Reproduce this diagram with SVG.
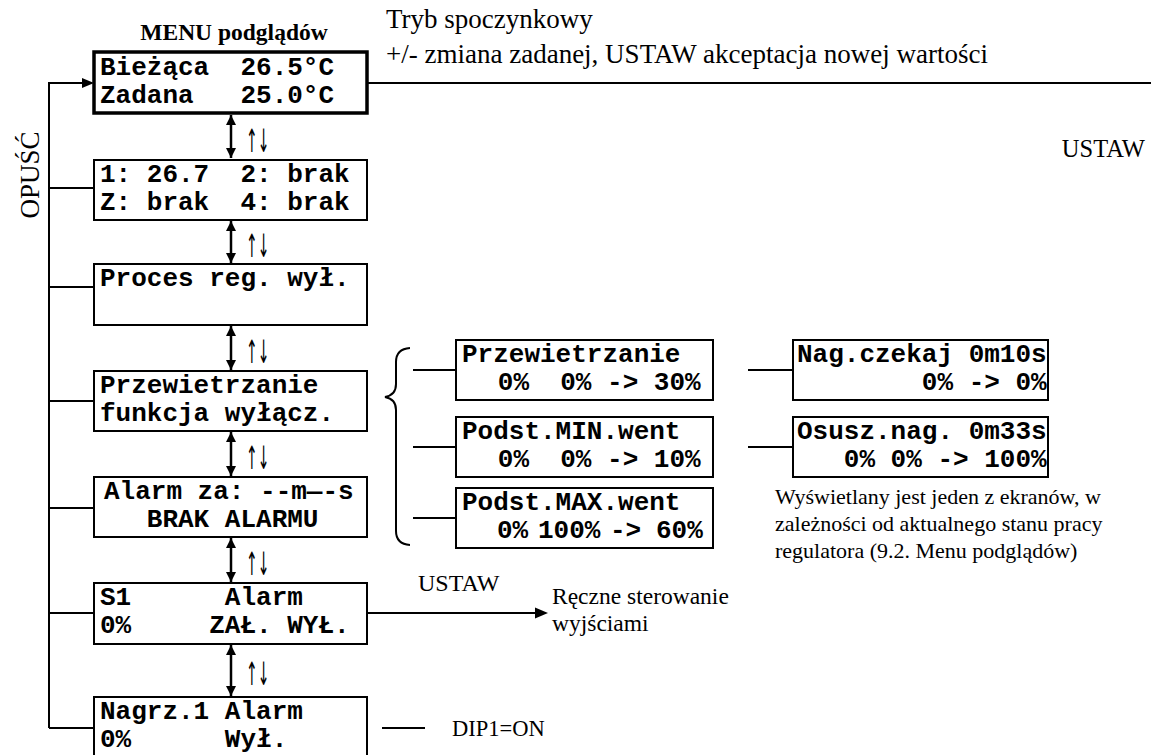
<svg xmlns="http://www.w3.org/2000/svg" width="1151" height="755" viewBox="0 0 1151 755">
<style>
.box{fill:#fff;stroke:#000;stroke-width:2}
.box1{fill:#fff;stroke:#000;stroke-width:3.5}
.mono{font-family:"Liberation Mono","Courier New",monospace;font-weight:bold;font-size:26px;fill:#000;white-space:pre}
.serif{font-family:"Liberation Serif","Times New Roman",serif;fill:#000}
.ud{font-family:"DejaVu Sans",sans-serif;font-size:14px;fill:#000}
.ln{stroke:#000;stroke-width:2;fill:none}
.dbl{stroke:#000;stroke-width:2.5;fill:none;marker-start:url(#ah);marker-end:url(#ah)}
</style>
<defs>
<marker id="ah" viewBox="0 0 10 10" refX="10" refY="5" markerUnits="userSpaceOnUse" markerWidth="12" markerHeight="10" orient="auto-start-reverse">
<path d="M0,0 L10,5 L0,10 z" fill="#000"/>
</marker>
</defs>

<g id="connectors">
<path class="ln" d="M49,728 L49,83 L84,83"/>
<path d="M94,83 L82,78 L82,88 z" fill="#000"/>
<path class="ln" d="M49,188 H94 M49,287 H94 M49,401 H94 M49,508 H94 M49,613 H94 M49,728 H94"/>
<line class="dbl" x1="231" y1="115" x2="231" y2="158"/>
<line class="dbl" x1="231" y1="221" x2="231" y2="263"/>
<line class="dbl" x1="231" y1="326" x2="231" y2="370"/>
<line class="dbl" x1="231" y1="432" x2="231" y2="476"/>
<line class="dbl" x1="231" y1="538" x2="231" y2="582"/>
<line class="dbl" x1="231" y1="645" x2="231" y2="696"/>
<line class="ln" x1="367" y1="83" x2="1151" y2="83" stroke-width="2.5"/>
<path class="ln" d="M410,348 Q396,349 396,362 L396,384 Q396,395 385,397 Q396,399 396,410 L396,531 Q396,544 410,545"/>
<path class="ln" d="M413,370 H456 M413,447 H456 M413,518 H456"/>
<path class="ln" d="M748,370 H793 M748,447 H793"/>
<line class="ln" x1="367" y1="613" x2="536" y2="613"/>
<path d="M548,613 L535,607.5 L535,618.5 z" fill="#000"/>
<line class="ln" x1="382" y1="728" x2="425" y2="728"/>
</g>

<g id="labels">
<text class="serif" x="234" y="40" text-anchor="middle" style="font-weight:bold;font-size:23.5px">MENU podglądów</text>
<text class="serif" x="386" y="28" style="font-size:27px">Tryb spoczynkowy</text>
<text class="serif" x="386" y="63" style="font-size:27px">+/- zmiana zadanej, USTAW akceptacja nowej wartości</text>
<text class="serif" x="1145" y="157" text-anchor="end" style="font-size:24.5px">USTAW</text>
<text class="serif" transform="translate(39,175) rotate(-90)" text-anchor="middle" style="font-size:27px">OPUŚĆ</text>
<text class="ud" transform="translate(246,152) scale(1,2.3)">↑↓</text>
<text class="ud" transform="translate(246,257) scale(1,2.3)">↑↓</text>
<text class="ud" transform="translate(246,363) scale(1,2.3)">↑↓</text>
<text class="ud" transform="translate(246,469) scale(1,2.3)">↑↓</text>
<text class="ud" transform="translate(246,575) scale(1,2.3)">↑↓</text>
<text class="ud" transform="translate(246,685) scale(1,2.3)">↑↓</text>
<text class="serif" x="775" y="504" style="font-size:22px">Wyświetlany jest jeden z ekranów, w</text>
<text class="serif" x="775" y="531" style="font-size:22px">zależności od aktualnego stanu pracy</text>
<text class="serif" x="775" y="558" style="font-size:22px">regulatora (9.2. Menu podglądów)</text>
<text class="serif" x="418" y="591" style="font-size:24px">USTAW</text>
<text class="serif" x="552" y="604" style="font-size:23.5px">Ręczne sterowanie</text>
<text class="serif" x="552" y="631" style="font-size:23.5px">wyjściami</text>
<text class="serif" x="452" y="736" style="font-size:22.5px">DIP1=ON</text>
</g>

<g id="n1"><rect class="box1" x="94" y="52" width="273" height="61"/>
<text class="mono" x="100" y="75" xml:space="preserve">Bieżąca  26.5°C</text>
<text class="mono" x="100" y="103" xml:space="preserve">Zadana   25.0°C</text></g>
<g id="n2"><rect class="box" x="94" y="160" width="273" height="60"/>
<text class="mono" x="100" y="182" xml:space="preserve">1: 26.7  2: brak</text>
<text class="mono" x="100" y="210" xml:space="preserve">Z: brak  4: brak</text></g>
<g id="n3"><rect class="box" x="94" y="264" width="273" height="61"/>
<text class="mono" x="100" y="286" xml:space="preserve">Proces reg. wył.</text></g>
<g id="n4"><rect class="box" x="94" y="371" width="273" height="60"/>
<text class="mono" x="100" y="393" xml:space="preserve">Przewietrzanie</text>
<text class="mono" x="100" y="421" xml:space="preserve">funkcja wyłącz.</text></g>
<g id="n5"><rect class="box" x="94" y="477" width="273" height="60"/>
<text class="mono" x="104" y="499" xml:space="preserve">Alarm za: --m—-s</text>
<text class="mono" x="100" y="527" xml:space="preserve">   BRAK ALARMU</text></g>
<g id="n6"><rect class="box" x="94" y="583" width="273" height="61"/>
<text class="mono" x="100" y="605" xml:space="preserve">S1      Alarm</text>
<text class="mono" x="100" y="633" xml:space="preserve">0%     ZAŁ. WYŁ.</text></g>
<g id="n7"><rect class="box" x="94" y="697" width="273" height="62"/>
<text class="mono" x="100" y="719" xml:space="preserve">Nagrz.1 Alarm</text>
<text class="mono" x="100" y="747" xml:space="preserve">0%      Wył.</text></g>

<g id="n8"><rect class="box" x="456" y="340" width="257" height="60"/>
<text class="mono" x="462" y="362" xml:space="preserve">Przewietrzanie</text>
<text class="mono" x="451" y="390" xml:space="preserve">   0%  0% -&gt; 30%</text></g>
<g id="n9"><rect class="box" x="456" y="417" width="257" height="60"/>
<text class="mono" x="462" y="439" xml:space="preserve">Podst.MIN.went</text>
<text class="mono" x="451" y="467" xml:space="preserve">   0%  0% -&gt; 10%</text></g>
<g id="n10"><rect class="box" x="456" y="488" width="257" height="60"/>
<text class="mono" x="462" y="510" xml:space="preserve">Podst.MAX.went</text>
<text class="mono" y="538"><tspan x="497">0%</tspan><tspan x="538">100%</tspan><tspan x="610">-&gt;</tspan><tspan x="656">60%</tspan></text></g>
<g id="n11"><rect class="box" x="793" y="340" width="255" height="60"/>
<text class="mono" x="797" y="362" xml:space="preserve">Nag.czekaj 0m10s</text>
<text class="mono" x="797" y="390" xml:space="preserve">        0% -&gt; 0%</text></g>
<g id="n12"><rect class="box" x="793" y="417" width="255" height="60"/>
<text class="mono" x="797" y="439" xml:space="preserve">Osusz.nag. 0m33s</text>
<text class="mono" x="797" y="467" xml:space="preserve">   0% 0% -&gt; 100%</text></g>
</svg>
